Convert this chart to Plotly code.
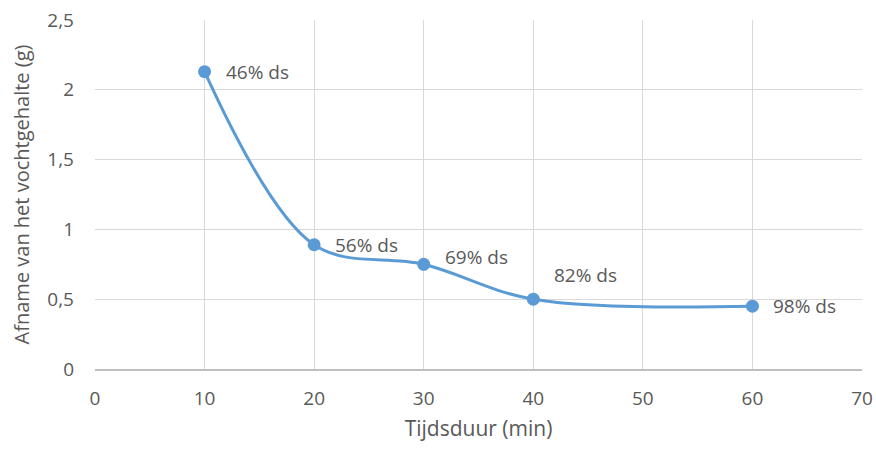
import plotly.graph_objects as go

# Drying time (min) vs. moisture loss (g), with dry-matter labels
tijdsduur = [10, 20, 30, 40, 60]
afname = [2.13, 0.89, 0.75, 0.50, 0.45]
labels = ["46% ds", "56% ds", "69% ds", "82% ds", "98% ds"]
label_lift = [0, 0, 7, 24, 0]

x_ticks = [0, 10, 20, 30, 40, 50, 60, 70]
y_ticks = [0, 0.5, 1, 1.5, 2, 2.5]

font_family = "Open Sans, Carlito, Liberation Sans, sans-serif"
grey = "#595959"

fig = go.Figure()
fig.add_trace(go.Scatter(
    x=tijdsduur, y=afname,
    mode="lines+markers",
    line=dict(color="#5B9BD5", width=3, shape="spline", smoothing=1),
    marker=dict(color="#5B9BD5", size=13),
    hoverinfo="x+y",
    showlegend=False,
))

for xv, yv, txt, lift in zip(tijdsduur, afname, labels, label_lift):
    fig.add_annotation(
        x=xv, y=yv, text=txt, showarrow=False,
        xanchor="left", yanchor="middle",
        xshift=19, yshift=lift,
        font=dict(family=font_family, size=19, color=grey),
    )

fig.update_layout(
    width=876, height=450,
    margin=dict(l=95, r=14, t=20, b=81, autoexpand=False),
    paper_bgcolor="white", plot_bgcolor="white",
    separators=",.",
    font=dict(family=font_family, size=19, color=grey),
    xaxis=dict(
        range=[0, 70], tickvals=x_ticks, automargin=False,
        showgrid=True, gridcolor="#D9D9D9", gridwidth=1.3,
        showline=True, linecolor="#BFBFBF", linewidth=1.5,
        zeroline=False, ticks="", ticklabelstandoff=11,
        title=dict(text="Tijdsduur (min)", standoff=12,
                   font=dict(size=21, color=grey)),
        tickfont=dict(size=19, color=grey),
    ),
    yaxis=dict(
        range=[0, 2.5], tickvals=y_ticks, automargin=False,
        showgrid=True, gridcolor="#D9D9D9", gridwidth=1.3,
        zeroline=False, showline=False, ticks="",
        ticklabelstandoff=20,
        title=dict(text="Afname van het vochtgehalte (g)", standoff=12,
                   font=dict(size=20, color=grey)),
        tickfont=dict(size=19, color=grey),
    ),
)

fig.write_html("out.html")
